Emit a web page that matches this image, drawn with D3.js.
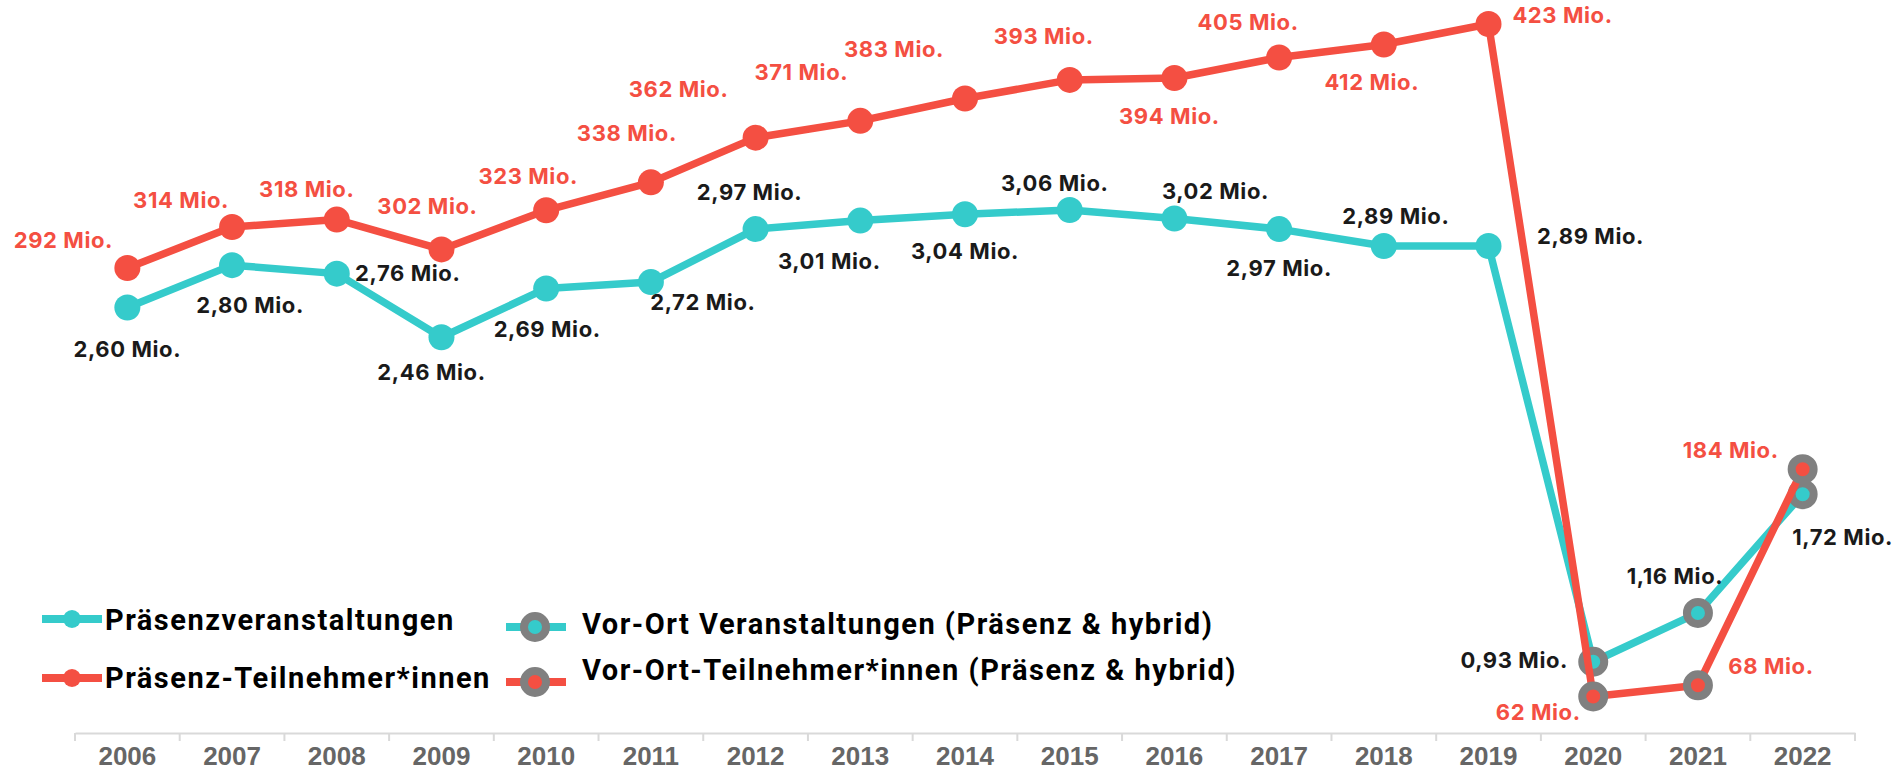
<!DOCTYPE html>
<html>
<head>
<meta charset="utf-8">
<script src="https://cdnjs.cloudflare.com/ajax/libs/d3/7.8.5/d3.min.js"></script>
<style>
  body { margin: 0; background: #fff; }
  svg { display: block; }
</style>
</head>
<body>
<div id="chart"></div>
<script>
// DATA
const years = ["2006","2007","2008","2009","2010","2011","2012","2013","2014","2015","2016","2017","2018","2019","2020","2021","2022"]
const events = [2.60, 2.80, 2.76, 2.46, 2.69, 2.72, 2.97, 3.01, 3.04, 3.06, 3.02, 2.97, 2.89, 2.89, 0.93, 1.16, 1.72]
const participants = [292, 314, 318, 302, 323, 338, 362, 371, 383, 393, 394, 405, 412, 423, 62, 68, 184]
// from 2020 on the figures are "Vor-Ort" (presence & hybrid)
const hybridFrom = "2020"

const legendNames = ["Präsenzveranstaltungen", "Präsenz-Teilnehmer*innen",
  "Vor-Ort Veranstaltungen (Präsenz & hybrid)", "Vor-Ort-Teilnehmer*innen (Präsenz & hybrid)"]

// label offsets from the point centre (px)
const eventLabelOff = [[0,41],[18,40],[71,-1],[-10,35],[1,41],[52,20],[-6,-37],[-31,40],[0,37],[-15,-27],[41,-27],[0,39],[12,-30],[102,-10],[-79,-2],[-23,-37],[40,43]]
const partLabelOff = [[-64,-28],[-51,-27],[-30,-31],[-14,-43],[-18,-34],[-24,-49],[-77,-49],[-59,-49],[-71,-50],[-26,-44],[-5,38],[-31,-36],[-12,38],[74,-9],[-55,15],[73,-19],[-72,-19]]

const red = "#f44f42", teal = "#35cbcb", grey = "#808080"
const width = 1898, height = 774

const svg = d3.select("#chart").append("svg")
  .attr("width", width)
  .attr("height", height)

const x = d3.scaleBand()
  .domain(years)
  .range([75, 1855])

const yEvents = d3.scaleLinear().domain([0, 3.06]).range([859, 210])
const yPart = d3.scaleLinear().domain([0, 423]).range([812, 24])

const cx = d => x(d) + x.bandwidth() / 2

// AXIS
const xAxis = d3.axisBottom(x).tickSize(0)
const axisG = svg.append("g")
  .attr("transform", "translate(0,733)")
  .call(xAxis)
axisG.select(".domain").attr("stroke", "#d9d9d9").attr("stroke-width", 2)
axisG.selectAll(".tick text")
  .attr("dy", 0)
  .attr("y", 32)
  .attr("font-family", "'Liberation Sans Narrow', 'Liberation Sans', Arial, sans-serif")
  .attr("font-weight", "bold")
  .attr("font-size", 26)
  .attr("fill", "#666")
axisG.selectAll(".sep")
  .data(d3.range(years.length + 1))
  .join("line")
  .attr("x1", i => 75 + i * x.step())
  .attr("x2", i => 75 + i * x.step())
  .attr("y1", 0).attr("y2", 8)
  .attr("stroke", "#d9d9d9").attr("stroke-width", 2)

// SERIES
function drawSeries(vals, y, color, offs) {
  const pts = years.map((yr, i) => ({ yr, v: vals[i], off: offs[i] }))
  svg.append("path")
    .datum(pts)
    .attr("fill", "none")
    .attr("stroke", color)
    .attr("stroke-width", 7.5)
    .attr("stroke-linejoin", "round")
    .attr("d", d3.line().x(d => cx(d.yr)).y(d => y(d.v)))

  svg.append("g").selectAll("circle")
    .data(pts)
    .join("circle")
    .attr("cx", d => cx(d.yr))
    .attr("cy", d => y(d.v))
    .attr("r", d => d.yr >= hybridFrom ? 11 : 13)
    .attr("fill", color)
    .attr("stroke", d => d.yr >= hybridFrom ? grey : "none")
    .attr("stroke-width", d => d.yr >= hybridFrom ? 8 : 0)

  return pts
}

const ePts = drawSeries(events, yEvents, teal, eventLabelOff)
const pPts = drawSeries(participants, yPart, red, partLabelOff)

function drawLabels(pts, y, fmt, color) {
  svg.append("g").selectAll("text")
    .data(pts)
    .join("text")
    .attr("x", d => cx(d.yr) + d.off[0])
    .attr("y", d => y(d.v) + d.off[1] + 8)
    .attr("text-anchor", "middle")
    .attr("font-family", "Inter, 'Open Sans', sans-serif")
    .attr("font-weight", 700)
    .attr("font-size", 22)
    .attr("letter-spacing", 0.6)
    .attr("fill", color)
    .text(d => fmt(d.v))
}
const de = d3.formatLocale({ decimal: ",", thousands: ".", grouping: [3], currency: ["", " €"] })
drawLabels(ePts, yEvents, v => de.format(".2f")(v) + " Mio.", "#1a1a1a")
drawLabels(pPts, yPart, v => v + " Mio.", red)

// LEGEND
const legend = svg.append("g")
const legendItems = [
  { name: legendNames[0], color: teal, ring: false, x: 42, y: 619, tx: 105, ty: 620 },
  { name: legendNames[1], color: red, ring: false, x: 42, y: 678, tx: 105, ty: 678 },
  { name: legendNames[2], color: teal, ring: true, x: 506, y: 627, tx: 582, ty: 624 },
  { name: legendNames[3], color: red, ring: true, x: 506, y: 682, tx: 582, ty: 670 }
]
legendItems.forEach(it => {
  legend.append("line")
    .attr("x1", it.x).attr("x2", it.x + 60)
    .attr("y1", it.y).attr("y2", it.y)
    .attr("stroke", it.color).attr("stroke-width", 8)
  legend.append("circle")
    .attr("cx", it.ring ? it.x + 29 : it.x + 30).attr("cy", it.y)
    .attr("r", it.ring ? 11 : 9)
    .attr("fill", it.color)
    .attr("stroke", it.ring ? grey : "none")
    .attr("stroke-width", it.ring ? 8 : 0)
  legend.append("text")
    .attr("x", it.tx)
    .attr("y", it.ty + 10)
    .attr("font-family", "Roboto, 'Open Sans', sans-serif")
    .attr("font-weight", 700)
    .attr("font-size", 29)
    .attr("letter-spacing", 1.5)
    .attr("fill", "#000")
    .text(it.name)
})
</script>
</body>
</html>
